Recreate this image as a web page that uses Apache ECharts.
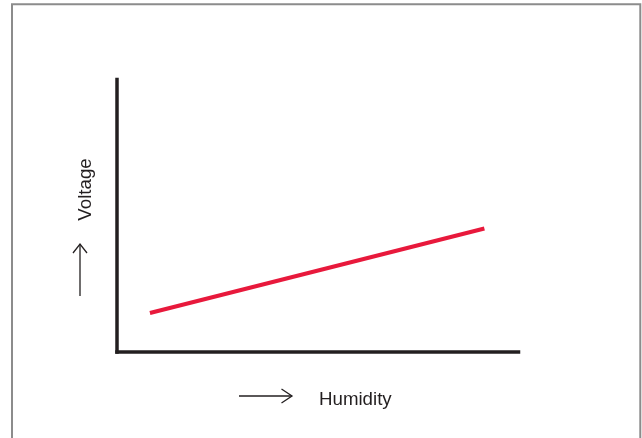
<!DOCTYPE html>
<html>
<head>
<meta charset="utf-8">
<script src="https://cdn.jsdelivr.net/npm/echarts@6/dist/echarts.min.js"></script>
<style>
  html, body { margin: 0; padding: 0; background: #ffffff; }
  #chart { width: 642px; height: 438px; }
</style>
</head>
<body>
<div id="chart"></div>
<script>
// Humidity (x) against voltage (y): a straight rising trend line
const humidity = [8.2, 91.5];
const voltage = [14.3, 45.3];
const xAxisTitle = 'Humidity';
const yAxisTitle = 'Voltage';

const ink = '#231f20';
const textFont = '"Liberation Sans", Arial, Helvetica, sans-serif';

const chart = echarts.init(document.getElementById('chart'), null, { renderer: 'canvas' });

const axisStyle = {
  show: true,
  lineStyle: { color: ink, width: 3.5, cap: 'square' }
};

chart.setOption({
  animation: false,
  backgroundColor: '#ffffff',
  grid: { left: 117, right: 123.5, top: 79.5, bottom: 86, containLabel: false },
  xAxis: {
    type: 'value', min: 0, max: 100,
    axisLine: axisStyle,
    axisTick: { show: false },
    axisLabel: { show: false },
    splitLine: { show: false }
  },
  yAxis: {
    type: 'value', min: 0, max: 100,
    axisLine: axisStyle,
    axisTick: { show: false },
    axisLabel: { show: false },
    splitLine: { show: false }
  },
  series: [{
    type: 'line',
    data: humidity.map((h, i) => [h, voltage[i]]),
    showSymbol: false,
    lineStyle: { color: '#e8193c', width: 4, cap: 'butt' },
    silent: true
  }],
  graphic: [
    // outer frame
    {
      type: 'rect', silent: true,
      shape: { x: 12, y: 4.3, width: 628.3, height: 500 },
      style: { fill: null, stroke: '#8c8c8c', lineWidth: 2 }
    },
    // horizontal arrow before the x-axis title
    {
      type: 'polyline', silent: true,
      shape: { points: [[239, 396], [292, 396]] },
      style: { stroke: ink, lineWidth: 1.3, fill: null }
    },
    {
      type: 'polyline', silent: true,
      shape: { points: [[281.5, 389], [292, 396], [281.5, 403]] },
      style: { stroke: ink, lineWidth: 1.3, fill: null }
    },
    {
      type: 'text', silent: true,
      style: {
        x: 319, y: 400, text: xAxisTitle,
        font: '18.7px ' + textFont, fill: ink,
        textAlign: 'left', textVerticalAlign: 'middle'
      }
    },
    // vertical arrow below the y-axis title
    {
      type: 'polyline', silent: true,
      shape: { points: [[80, 296], [80, 244]] },
      style: { stroke: ink, lineWidth: 1.3, fill: null }
    },
    {
      type: 'polyline', silent: true,
      shape: { points: [[73, 253], [80, 244], [87, 253]] },
      style: { stroke: ink, lineWidth: 1.3, fill: null }
    },
    {
      type: 'text', silent: true,
      x: 85.5, y: 189.5, rotation: Math.PI / 2,
      style: {
        x: 0, y: 0, text: yAxisTitle,
        font: '18.7px ' + textFont, fill: ink,
        textAlign: 'center', textVerticalAlign: 'middle'
      }
    }
  ]
});
</script>
</body>
</html>
